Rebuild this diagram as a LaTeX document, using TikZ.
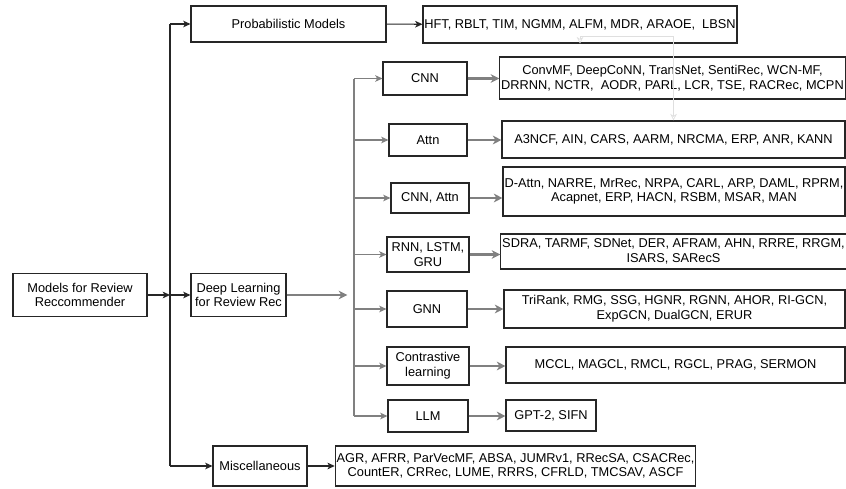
\documentclass[tikz,border=0pt]{standalone}
\usepackage{fontspec}
\setmainfont{Liberation Sans}
\usepackage{tikz}
\usetikzlibrary{positioning, arrows.meta, shapes}

\tikzset{
  box/.style 2 args={draw=black!85, thick, align=center, inner sep=1pt,
    minimum width=#1*0.75pt, minimum height=#2*0.75pt,
    font=\fontsize{9.6}{11}\selectfont},
  arr/.style={draw=black!85, thick, -{Stealth[length=5.5pt,width=5pt,inset=1.5pt]}},
  thinarr/.style={draw=gray, thick, -{Stealth[length=5.5pt,width=5pt,inset=1.5pt]}},
  bigarr/.style={draw=gray, line width=1.6pt, -{Stealth[length=6.5pt,width=6.5pt,inset=2pt]}},
  ghost/.style={draw=gray!25, line width=0.5pt, {Stealth[open,length=5pt,width=5pt]}-{Stealth[open,length=5pt,width=5pt]}}
}

\begin{document}
\begin{tikzpicture}[x=0.75pt, y=-0.75pt]
\useasboundingbox (0,0) rectangle (846,489);

\node[box={134}{43}] (root) at (80,295) {Models for Review\\Reccommender};
\node[box={195}{36}] (prob) at (288.5,24) {Probabilistic Models};
\node[box={314}{37}] (hft) at (580,24.5) {HFT, RBLT, TIM, NGMM, ALFM, MDR, ARAOE,~ LBSN};
\node[box={95}{43}] (deep) at (238.5,295) {Deep Learning\\for Review Rec};
\node[box={94}{40}] (misc) at (260,466) {Miscellaneous};
\node[box={353}{40}] (agr) at (515.5,466) {AGR, AFRR, ParVecMF, ABSA, JUMRv1, RRecSA, CSACRec,\\CountER, CRRec, LUME, RRRS, CFRLD, TMCSAV, ASCF};

\node[box={84}{33}] (cnn) at (425,78.5) {CNN};
\node[box={78}{32}] (attn) at (428,140) {Attn};
\node[box={78}{30}] (cnnattn) at (430,198) {CNN, Attn};
\node[box={82}{35}] (rnn) at (428,254.5) {RNN, LSTM,\\GRU};
\node[box={80}{36}] (gnn) at (427,309) {GNN};
\node[box={82}{38}] (contr) at (428,366) {Contrastive\\learning};
\node[box={80}{32}] (llm) at (428,416) {LLM};

\node[box={345}{42}] (convmf) at (672.5,78) {ConvMF, DeepCoNN, TransNet, SentiRec, WCN-MF,\\DRRNN, NCTR,~ AODR, PARL, LCR, TSE, RACRec, MCPN};
\node[box={343}{37}] (a3ncf) at (673.5,139.5) {A3NCF, AIN, CARS, AARM, NRCMA, ERP, ANR, KANN};
\node[box={342}{49}] (dattn) at (674,191.5) {D-Attn, NARRE, MrRec, NRPA, CARL, ARP, DAML, RPRM,\\Acapnet, ERP, HACN, RSBM, MSAR, MAN};
\node[box={343}{35}] (sdra) at (673.5,251.5) {SDRA, TARMF, SDNet, DER, AFRAM, AHN, RRRE, RRGM,\\ISARS, SARecS};
\node[box={341}{38}] (trirank) at (674.5,309) {TriRank, RMG, SSG, HGNR, RGNN, AHOR, RI-GCN,\\ExpGCN, DualGCN, ERUR};
\node[box={339}{36}] (mccl) at (675.5,365) {MCCL, MAGCL, RMCL, RGCL, PRAG, SERMON};
\node[box={90}{31}] (gpt) at (551,415.5) {GPT-2, SIFN};

\coordinate (tr) at (170,0);
\coordinate (st) at (354,0);

\draw[ghost] (hft.south) -- ++(0,-7) -| (a3ncf.north);

\draw[draw=black!85, thick] (tr |- prob) -- (tr |- misc);
\draw[arr] (root) -- (root -| tr);
\draw[arr] (tr |- prob) -- (prob);
\draw[arr] (root -| tr) -- (deep);
\draw[arr] (tr |- misc) -- (misc);
\draw[arr] (prob) -- (hft);
\draw[arr] (misc) -- (agr);

\draw[draw=gray, thick] (st |- cnn) -- (st |- llm);
\draw[bigarr, shorten >=5pt] (deep) -- (deep -| st);
\foreach \n in {cnn,attn,cnnattn,rnn,gnn,contr,llm}
\draw[thinarr] (st |- \n) -- (\n.west);
\foreach \a/\b in {cnn/convmf,attn/a3ncf,cnnattn/dattn,rnn/sdra,gnn/trirank,contr/mccl,llm/gpt}
\draw[bigarr] (\a.east) -- (\a.east -| \b.west);
\end{tikzpicture}
\end{document}
